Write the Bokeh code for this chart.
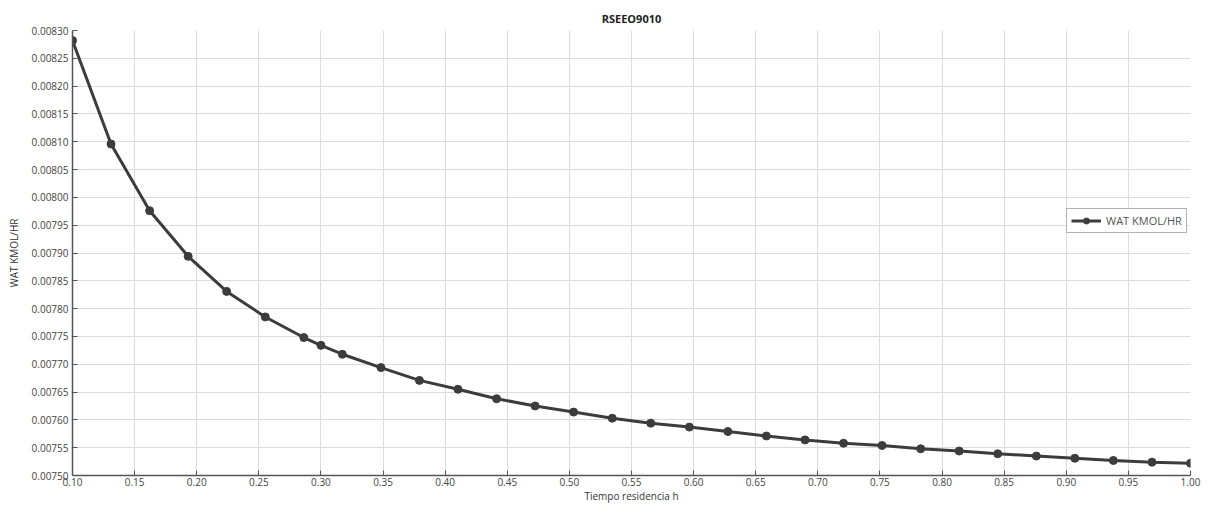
from bokeh.plotting import figure
from bokeh.models import FixedTicker, PrintfTickFormatter, Range1d, Legend, LegendItem
from bokeh.embed import file_html
from bokeh.resources import INLINE

# Data
tiempo = [0.1, 0.131, 0.1621, 0.1931, 0.2241, 0.2552, 0.2862, 0.3, 0.3172, 0.3483,
          0.3793, 0.4103, 0.4414, 0.4724, 0.5034, 0.5345, 0.5655, 0.5966, 0.6276,
          0.6586, 0.6897, 0.7207, 0.7517, 0.7828, 0.8138, 0.8448, 0.8759, 0.9069,
          0.9379, 0.969, 1.0]
wat = [0.008282, 0.008096, 0.007976, 0.007894, 0.007831, 0.007785, 0.007748, 0.007734,
       0.007718, 0.007694, 0.007671, 0.007655, 0.007638, 0.007625, 0.007614, 0.007603,
       0.007594, 0.007587, 0.007579, 0.007571, 0.007564, 0.007558, 0.007554, 0.007548,
       0.007544, 0.007539, 0.007535, 0.007531, 0.007527, 0.007524, 0.007522]
x_ticks = [0.10, 0.15, 0.20, 0.25, 0.30, 0.35, 0.40, 0.45, 0.50, 0.55, 0.60, 0.65,
           0.70, 0.75, 0.80, 0.85, 0.90, 0.95, 1.00]
y_ticks = [0.00750, 0.00755, 0.00760, 0.00765, 0.00770, 0.00775, 0.00780, 0.00785,
           0.00790, 0.00795, 0.00800, 0.00805, 0.00810, 0.00815, 0.00820, 0.00825, 0.00830]

FONT = "Open Sans"
TXT = "#444444"

p = figure(width=1201, height=505, output_backend="svg", toolbar_location=None,
           x_range=Range1d(0.1, 1.0), y_range=Range1d(0.0075, 0.0083),
           title="RSEEO9010", min_border_left=72, min_border_right=11,
           min_border_top=30, min_border_bottom=0)

p.title.align = "center"
p.title.text_font = FONT
p.title.text_font_size = "11px"
p.title.text_font_style = "bold"
p.title.text_color = "#222222"
p.title.standoff = 10

p.outline_line_color = None
p.background_fill_color = "white"

for ax in (p.xaxis[0], p.yaxis[0]):
    ax.major_label_text_font = FONT
    ax.major_label_text_font_size = "10px"
    ax.major_label_text_color = TXT
    ax.axis_label_text_font = FONT
    ax.axis_label_text_font_size = "10px"
    ax.axis_label_text_font_style = "normal"
    ax.axis_label_text_color = "#333333"
    ax.axis_line_color = "#555555"
    ax.axis_line_width = 1.5
    ax.major_tick_in = 5
    ax.major_tick_out = 0
    ax.major_tick_line_color = "#555555"
    ax.minor_tick_line_color = None
    ax.major_label_standoff = 2
    ax.axis_label_standoff = 0

p.yaxis[0].major_label_standoff = 4
p.yaxis[0].axis_label_standoff = 8

p.xaxis[0].ticker = FixedTicker(ticks=x_ticks)
p.yaxis[0].ticker = FixedTicker(ticks=y_ticks)
p.xaxis[0].formatter = PrintfTickFormatter(format="%.2f")
p.yaxis[0].formatter = PrintfTickFormatter(format="%.5f")
p.xaxis[0].axis_label = "Tiempo residencia h"
p.yaxis[0].axis_label = "WAT KMOL/HR"

p.xgrid.grid_line_color = "#dcdcdc"
p.ygrid.grid_line_color = "#dcdcdc"
p.xgrid.grid_line_width = 1
p.ygrid.grid_line_width = 1

ln = p.line(tiempo, wat, line_color="#3c3c3c", line_width=3)
pts = p.scatter(tiempo, wat, marker="circle", size=8, fill_color="#3c3c3c",
                line_color="#3c3c3c")

legend = Legend(items=[LegendItem(label="WAT KMOL/HR", renderers=[ln, pts])],
                location=(994, 242))
legend.label_text_font = FONT
legend.label_text_font_size = "11px"
legend.label_text_color = "#555555"
legend.border_line_color = "#666666"
legend.border_line_width = 1.5
legend.padding = 4
legend.margin = 0
legend.spacing = 0
legend.glyph_width = 30
legend.glyph_height = 15
legend.label_height = 15
legend.label_standoff = 5
legend.background_fill_color = "white"
legend.background_fill_alpha = 1
p.add_layout(legend)

open("out.html", "w").write(file_html(p, INLINE))
